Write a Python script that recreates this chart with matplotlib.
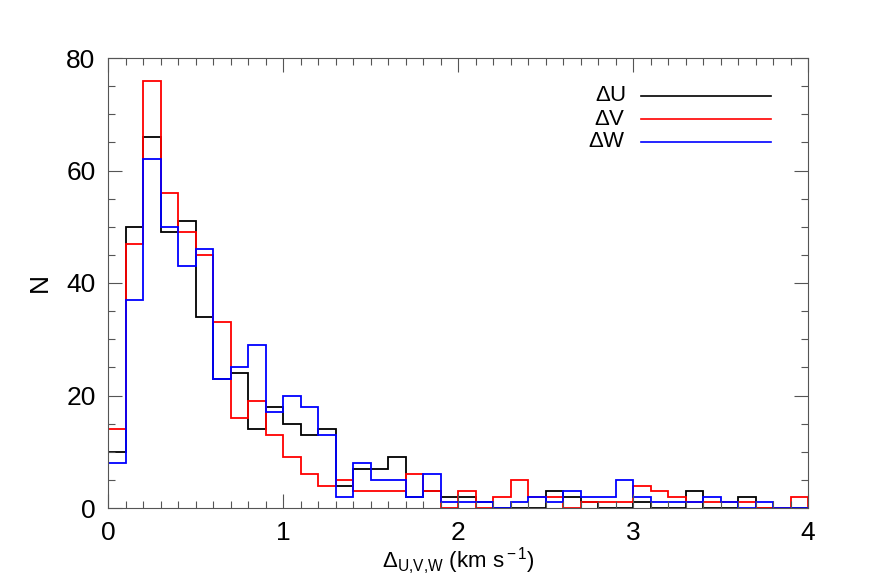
import matplotlib
matplotlib.use("Agg")
import matplotlib.pyplot as plt
import numpy as np

plt.rcParams['font.family'] = ['Liberation Sans Narrow', 'Liberation Sans', 'DejaVu Sans']
plt.rcParams['mathtext.fontset'] = 'custom'
plt.rcParams['mathtext.rm'] = 'Liberation Sans'
plt.rcParams['mathtext.it'] = 'Liberation Sans'

# histogram counts, bins of 0.1 km/s from 0 to 4
bin_lo = 0.0
bin_hi = 4.0
n_bins = 40

count_u = [10, 50, 66, 49, 51, 34, 23, 24, 14, 18,
           15, 13, 14, 4, 7, 7, 9, 2, 3, 2,
           2, 1, 0, 0, 0, 3, 2, 1, 0, 0,
           1, 0, 0, 3, 0, 0, 2, 0, 0, 0]
count_v = [14, 47, 76, 56, 49, 45, 33, 16, 19, 13,
           9, 6, 4, 5, 3, 3, 3, 6, 3, 0,
           3, 0, 2, 5, 2, 2, 0, 1, 1, 1,
           4, 3, 2, 1, 1, 1, 1, 0, 0, 2]
count_w = [8, 37, 62, 50, 43, 46, 23, 25, 29, 17,
           20, 18, 13, 2, 8, 5, 5, 2, 6, 1,
           1, 1, 0, 1, 2, 1, 3, 2, 2, 5,
           2, 1, 1, 1, 2, 1, 0, 1, 0, 0]

labels = [r'$\Delta$U', r'$\Delta$V', r'$\Delta$W']
colors = ['black', 'red', 'blue']

edges = np.linspace(bin_lo, bin_hi, n_bins + 1)

fig = plt.figure(figsize=(8.72, 5.81), dpi=100)
ax = fig.add_axes([108/872, 1 - 508/581, 700/872, 450/581])

for counts, col in zip([count_u, count_v, count_w], colors):
    ax.stairs(counts, edges, color=col, linewidth=1.3)

ax.set_xlim(0, 4)
ax.set_ylim(0, 80)
ax.set_xticks([0, 1, 2, 3, 4])
ax.set_xticks(np.arange(0, 4.01, 0.1), minor=True)
ax.set_yticks([0, 20, 40, 60, 80])
ax.set_yticks(np.arange(0, 81, 5), minor=True)
ax.tick_params(which='both', direction='in', top=True, right=True, color='#555555',
               width=0.8, labelsize=19, pad=9)
ax.tick_params(which='major', length=10)
ax.tick_params(which='minor', length=5)
for s in ax.spines.values():
    s.set_color('#555555')
    s.set_linewidth(0.8)

ax.set_ylabel('N', fontsize=19, labelpad=10)
ax.set_xlabel(r'$\Delta_{\rm U{,}V{,}W}$ (km s$^{\rm -1}$)', fontsize=16, labelpad=1)

# legend drawn by hand like the original
leg_y = [73.3, 69.1, 65.1]
for lab, col, yy in zip(labels, colors, leg_y):
    ax.plot([3.046, 3.79], [yy, yy], color=col, linewidth=1.2)
    ax.text(2.96, yy, lab, fontsize=16, ha='right', va='center')

fig.savefig('out.png', dpi=100)
